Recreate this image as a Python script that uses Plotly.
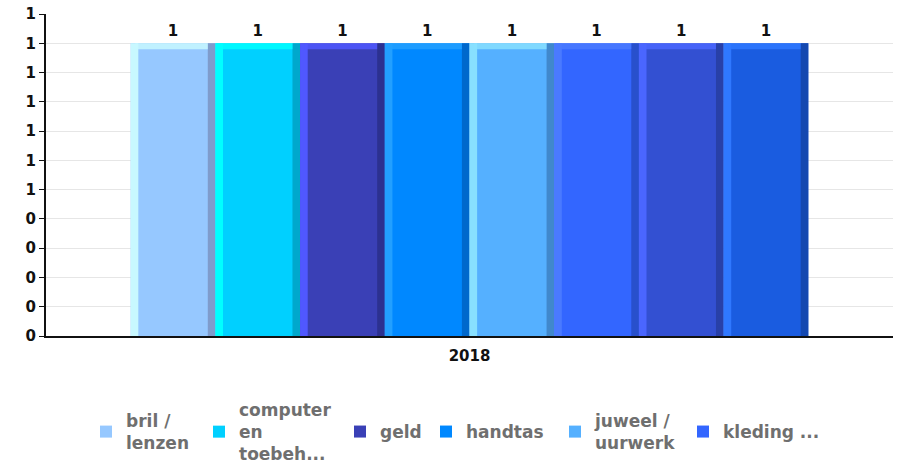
import plotly.graph_objects as go

category = ["2018"]
series_names = ["bril /<br>lenzen", "computer<br>en<br>toebeh...", "geld", "handtas",
                "juweel /<br>uurwerk", "kleding ...", "overige", "sleutels"]
series_values = [1, 1, 1, 1, 1, 1, 1, 1]
in_legend = [True, True, True, True, True, True, False, False]
colors = ["#96c8ff", "#00d0ff", "#3a40b6", "#0088ff", "#55b0ff", "#3366ff", "#3350d2", "#1a5ce0"]
light = ["#c8f8ff", "#00ffff", "#5058ff", "#22a0ff", "#88e0ff", "#4a7aff", "#4a66ff", "#2f78ff"]
dark = ["#7f9ccc", "#00a8cc", "#2c3190", "#0068cc", "#4088cc", "#2850cc", "#2840a8", "#1448b0"]
y_ticks = [0, 0.1, 0.2, 0.3, 0.4, 0.5, 0.6, 0.7, 0.8, 0.9, 1.0, 1.1]
y_tick_labels = ["0", "0", "0", "0", "0", "1", "1", "1", "1", "1", "1", "1"]

# legend placement (pixel x of each legend symbol centre)
legend_px = [106, 219, 360, 446, 575, 703]

W, H = 903, 465
L, R, T, B = 46, 10, 14, 129
pw, ph = W - L - R, H - T - B

n = len(series_values)
slot = 0.8 / n
edge = slot * 0.09
top = 0.02

fig = go.Figure()
for i in range(n):
    off = -0.4 + slot * i
    v = series_values[i]
    lg = "legend" if i == 0 else "legend%d" % (i + 1)
    fig.add_trace(go.Bar(
        x=category, y=[v], name=series_names[i], width=slot, offset=off,
        marker=dict(color=colors[i], line=dict(width=0)),
        text=[str(v)], textposition="outside", cliponaxis=False,
        textfont=dict(family="DejaVu Sans", size=15, color="#111111", weight="bold"),
        showlegend=in_legend[i], legend=lg if in_legend[i] else None,
    ))
    # bevel strips
    fig.add_trace(go.Bar(x=category, y=[v], width=edge, offset=off,
                         marker=dict(color=light[i], line=dict(width=0)),
                         showlegend=False, hoverinfo="skip"))
    fig.add_trace(go.Bar(x=category, y=[v], width=edge, offset=off + slot - edge,
                         marker=dict(color=dark[i], line=dict(width=0)),
                         showlegend=False, hoverinfo="skip"))
    fig.add_trace(go.Bar(x=category, y=[top], base=[v - top], width=slot - edge * 1.6,
                         offset=off + edge * 0.6,
                         marker=dict(color=light[i], opacity=0.85, line=dict(width=0)),
                         showlegend=False, hoverinfo="skip"))

legend_font = dict(family="DejaVu Sans", size=17, color="#6f6f6f", weight="bold")
legends = {}
for k, px in enumerate(legend_px):
    key = "legend" if k == 0 else "legend%d" % (k + 1)
    legends[key] = dict(orientation="h", x=(px - 20 - L) / pw, xanchor="left",
                        y=(T + ph - 432) / ph, yanchor="middle",
                        font=legend_font, itemwidth=30, valign="middle",
                        bgcolor="rgba(0,0,0,0)", borderwidth=0)

fig.update_layout(
    width=W, height=H,
    barmode="overlay",
    margin=dict(l=L, r=R, t=T, b=B, autoexpand=False),
    plot_bgcolor="white", paper_bgcolor="white",
    font=dict(family="DejaVu Sans", size=14, color="#111111"),
    showlegend=True,
    xaxis=dict(showline=True, linecolor="#111111", linewidth=2, showgrid=False,
               tickfont=dict(family="DejaVu Sans", size=15, color="#111111", weight="bold"),
               ticks="outside", ticklen=5, tickcolor="rgba(0,0,0,0)",
               range=[-0.5, 0.5], automargin=False),
    yaxis=dict(range=[0, 1.1], tickvals=y_ticks, ticktext=y_tick_labels,
               showline=True, linecolor="#111111", linewidth=2,
               ticks="outside", ticklen=5, tickcolor="#111111",
               gridcolor="#e6e6e6", gridwidth=1, zeroline=False, automargin=False,
               ticklabeloverflow="allow",
               tickfont=dict(family="DejaVu Sans", size=15, color="#111111", weight="bold")),
    **legends,
)

# drop the default 8px body margin so the figure sits at the page corner
fig.write_html("out.html", config={"displayModeBar": False},
               post_script="document.body.style.margin='0';")
